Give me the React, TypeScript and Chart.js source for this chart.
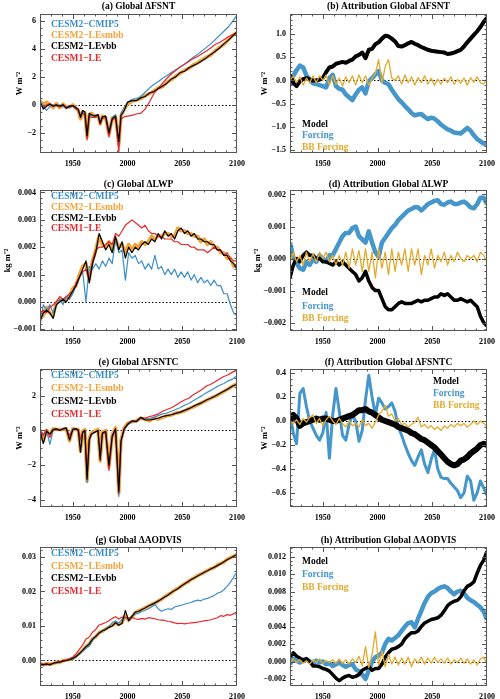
import React, { useEffect, useRef } from "react";
import { Chart, registerables } from "chart.js";
Chart.register(...registerables);

// ---------- years ----------
const yearsA = [
  1920, 1923, 1926, 1929, 1932, 1935, 1938, 1941, 1944, 1947, 1950, 1953,
  1955, 1957, 1959, 1961, 1963, 1965, 1967,
  1970, 1973, 1975, 1977, 1980, 1983, 1986, 1989, 1992, 1994, 1997,
  2000, 2004, 2008, 2012, 2016, 2020, 2024, 2028, 2032, 2036,
  2040, 2044, 2048, 2052, 2056, 2060, 2064, 2068, 2072, 2076,
  2080, 2084, 2088, 2092, 2096, 2100,
];
const years3 = [
  1920, 1923, 1926, 1929, 1932, 1935, 1938, 1941, 1944, 1947,
  1950, 1953, 1956, 1959, 1962, 1965, 1968, 1971, 1974, 1977,
  1980, 1983, 1986, 1989, 1992, 1995, 1998, 2001, 2004, 2007,
  2010, 2013, 2016, 2019, 2022, 2025, 2028, 2031, 2034, 2037,
  2040, 2043, 2046, 2049, 2052, 2055, 2058, 2061, 2064, 2067,
  2070, 2073, 2076, 2079, 2082, 2085, 2088, 2091, 2094, 2097,
  2100,
];

// ---------- (a) Global ΔFSNT ----------
const fsntVbb = [
  0.2, -0.3, -0.1, 0.05, -0.1, 0.0, -0.1, 0.0, -0.25, -0.1, -0.05, -0.2,
  -0.3, -0.9, -0.4, -0.5, -2.2, -0.6, -0.7,
  -0.8, -0.7, -1.3, -0.85, -0.8, -2.0, -1.0, -0.8, -2.6, -0.75, -0.4,
  0.2, 0.3, 0.3, 0.5, 0.6, 0.85, 0.95, 1.15, 1.35, 1.55,
  1.85, 2.0, 2.3, 2.4, 2.65, 2.8, 2.95, 3.15, 3.35, 3.6,
  3.8, 4.05, 4.35, 4.6, 4.9, 5.2,
];
const fsntSmbb = [
  0.3, 0.0, 0.2, 0.0, -0.2, 0.1, -0.2, 0.05, -0.15, -0.15, 0.0, -0.25,
  -0.4, -1.0, -0.5, -0.55, -2.3, -0.7, -0.6,
  -0.85, -0.75, -1.35, -0.8, -0.9, -2.1, -0.95, -0.85, -2.8, -0.8, -0.3,
  0.05, 0.25, 0.35, 0.45, 0.65, 0.8, 1.0, 1.2, 1.3, 1.6,
  1.8, 2.05, 2.25, 2.45, 2.6, 2.85, 3.0, 3.2, 3.4, 3.55,
  3.85, 4.1, 4.3, 4.65, 4.95, 5.15,
];
const fsntLe1 = [
  0.1, -0.2, 0.0, 0.1, -0.05, 0.0, -0.15, 0.05, -0.2, -0.05, -0.1, -0.3,
  -0.4, -0.8, -0.6, -0.7, -2.5, -0.8, -0.9,
  -0.9, -0.8, -1.4, -1.0, -0.9, -2.3, -1.1, -0.9, -3.4, -1.0, -0.85,
  -0.8, -0.75, -0.65, -0.6, -0.3, 0.2, 0.8, 1.2, 1.55, 1.9,
  2.2, 2.45, 2.7, 2.9, 3.1, 3.3, 3.45, 3.65, 3.85, 4.05,
  4.3, 4.45, 4.65, 4.85, 5.0, 5.2,
];
const fsntCmip5 = [
  0.35, -0.1, -0.4, -0.1, 0.0, -0.1, 0.0, -0.15, -0.1, -0.2, -0.1, -0.3,
  -0.4, -0.7, -0.5, -0.6, -2.3, -0.7, -0.8,
  -0.75, -0.7, -1.2, -0.85, -0.8, -1.9, -0.9, -0.7, -2.9, -0.6, -0.2,
  0.15, 0.4, 0.45, 0.6, 0.9, 1.2, 1.45, 1.65, 1.9, 2.1,
  2.3, 2.5, 2.7, 2.9, 3.15, 3.4, 3.6, 3.85, 4.1, 4.35,
  4.65, 4.95, 5.25, 5.55, 5.95, 6.4,
];

// ---------- (e) Global ΔFSNTC ----------
const fsntcVbb = [
  0.0, -0.75, -0.05, -0.2, 0.05, 0.1, 0.0, 0.1, 0.15, -0.55, 0.05, 0.1,
  0.0, -1.25, -0.1, 0.0, -2.8, -0.5, -0.2,
  -0.1, 0.0, -1.7, -0.15, -0.05, -2.0, -0.3, 0.1, -3.5, -0.6, 0.1,
  0.35, 0.55, 0.5, 0.75, 0.6, 0.6, 0.65, 0.7, 0.8, 0.85,
  0.9, 0.98, 1.05, 1.15, 1.25, 1.38, 1.5, 1.6, 1.75, 1.85,
  1.98, 2.12, 2.25, 2.4, 2.55, 2.65,
];
const fsntcSmbb = [
  0.05, -0.6, 0.0, -0.3, 0.1, 0.05, 0.05, 0.05, 0.1, -0.6, 0.1, 0.05,
  0.05, -1.2, -0.05, 0.05, -2.9, -0.45, -0.15,
  -0.05, 0.05, -1.75, -0.1, 0.0, -2.1, -0.25, 0.15, -3.6, -0.55, 0.15,
  0.4, 0.5, 0.55, 0.7, 0.65, 0.55, 0.7, 0.65, 0.75, 0.85,
  0.88, 1.0, 1.03, 1.12, 1.25, 1.35, 1.47, 1.6, 1.72, 1.85,
  1.95, 2.1, 2.25, 2.38, 2.55, 2.68,
];
const fsntcCmip5 = [
  0.0, -0.2, 0.0, -0.8, 0.0, 0.05, 0.05, 0.05, 0.1, -0.3, 0.1, 0.05,
  0.0, -0.6, -0.1, -0.05, -3.0, -0.6, -0.25,
  -0.1, 0.0, -1.3, -0.2, -0.1, -2.2, -0.4, 0.0, -3.8, -0.7, 0.05,
  0.3, 0.5, 0.5, 0.7, 0.65, 0.7, 0.75, 0.85, 0.95, 1.0,
  1.1, 1.2, 1.3, 1.45, 1.55, 1.7, 1.85, 2.0, 2.17, 2.3,
  2.45, 2.6, 2.7, 2.85, 2.95, 3.15,
];
const fsntcLe1 = [
  0.0, -0.3, 0.05, -0.4, 0.05, 0.05, 0.0, 0.1, 0.1, -0.3, 0.05, 0.1,
  0.05, -0.5, -0.1, 0.0, -2.6, -0.6, -0.2,
  -0.1, 0.0, -1.5, -0.2, -0.1, -2.3, -0.4, 0.05, -3.6, -0.6, 0.1,
  0.35, 0.55, 0.55, 0.75, 0.7, 0.8, 0.85, 0.95, 1.1, 1.2,
  1.3, 1.45, 1.6, 1.75, 1.85, 2.05, 2.2, 2.35, 2.55, 2.65,
  2.8, 2.95, 3.1, 3.2, 3.35, 3.47,
];

// ---------- (c) Global ΔLWP ----------
const lwpCmip5 = [
  -0.0009, -0.0001, -0.0003, -0.0001, -0.0004, -0.0001, 0.0001, -0.0001, 0.0002, 0.0001,
  0.0003, 0.0006, 0.0009, 0.0011, 0.0, 0.0013, 0.0012, 0.0014, 0.0012, 0.0015,
  0.0013, 0.0016, 0.0014, 0.0023, 0.0018, 0.0019, 0.0008, 0.0018, 0.0016, 0.0017,
  0.0014, 0.0015, 0.0012, 0.0014, 0.0012, 0.0017, 0.0012, 0.0013, 0.001, 0.0012,
  0.001, 0.0012, 0.0009, 0.0011, 0.0009, 0.0011, 0.0008, 0.001, 0.0007, 0.0009,
  0.0007, 0.0008, 0.0006, 0.0008, 0.0006, 0.0006, 0.0003, 0.0003, -0.0001, -0.0004,
  -0.0005,
];
const lwpVbb = [
  -0.0007, -0.0004, -0.0003, -0.0004, -0.0006, -0.0001, 0.0, 0.0001, 0.0, 0.0002,
  0.0004, 0.0006, 0.0009, 0.0012, 0.0015, 0.0007, 0.0014, 0.0018, 0.0025, 0.0022,
  0.0019, 0.0021, 0.0018, 0.0024, 0.0019, 0.0022, 0.0016, 0.002, 0.0018, 0.002,
  0.0019, 0.0021, 0.0022, 0.0021, 0.0023, 0.0022, 0.0025, 0.0023, 0.0026, 0.0024,
  0.0025, 0.0023, 0.0026, 0.0027, 0.0025, 0.0026, 0.0024, 0.0025, 0.0023, 0.0023,
  0.0022, 0.0022, 0.0021, 0.0021, 0.0019, 0.0019, 0.0017, 0.0017, 0.0015, 0.0014,
  0.0012,
];
const lwpSmbb = [
  -0.0006, -0.0005, -0.0002, -0.0004, -0.0005, 0.0, 0.0001, 0.0, 0.0001, 0.0002,
  0.0005, 0.0006, 0.001, 0.0013, 0.0014, 0.0008, 0.0015, 0.0019, 0.0024, 0.0021,
  0.002, 0.0022, 0.0019, 0.0023, 0.002, 0.0021, 0.0018, 0.0021, 0.0019, 0.0021,
  0.002, 0.0022, 0.0021, 0.0022, 0.0024, 0.0023, 0.0024, 0.0024, 0.0025, 0.0025,
  0.0024, 0.0024, 0.0027, 0.0026, 0.0026, 0.0025, 0.0025, 0.0024, 0.0024, 0.0022,
  0.0023, 0.0021, 0.0022, 0.002, 0.002, 0.0018, 0.0018, 0.0016, 0.0016, 0.0013,
  0.0013,
];
const lwpLe1 = [
  -0.0004, -0.0003, -0.0004, -0.0002, -0.0001, 0.0, 0.0002, 0.0001, 0.0002, 0.0003,
  0.0004, 0.0007, 0.0009, 0.0011, 0.0012, 0.0008, 0.0015, 0.0019, 0.002, 0.002,
  0.0021, 0.0022, 0.0021, 0.0025, 0.0024, 0.0026, 0.0028, 0.0029, 0.003, 0.0029,
  0.0028, 0.0027, 0.0028, 0.0026, 0.0025, 0.0025, 0.0024, 0.0024, 0.0023, 0.0023,
  0.0023, 0.0022, 0.0022, 0.0021, 0.0021, 0.0021, 0.002, 0.002, 0.0019, 0.0019,
  0.0019, 0.0018, 0.0019, 0.002, 0.0019, 0.0019, 0.0017, 0.0018, 0.0016, 0.0015,
  0.0015,
];

// ---------- (g) Global ΔAODVIS ----------
const aodVbb = [
  -0.001, -0.0012, -0.001, -0.0013, -0.0008, -0.0006, -0.0005, -0.0002, 0.0, 0.0002,
  0.0006, 0.0012, 0.002, 0.003, 0.004, 0.0048, 0.0062, 0.007, 0.008, 0.0086,
  0.009, 0.0096, 0.01, 0.011, 0.0102, 0.0108, 0.0145, 0.0115, 0.0128, 0.014,
  0.0142, 0.0148, 0.0152, 0.0158, 0.0162, 0.0167, 0.0172, 0.0178, 0.0184, 0.019,
  0.0197, 0.0203, 0.0208, 0.0216, 0.0222, 0.0228, 0.0234, 0.024, 0.0245, 0.025,
  0.0256, 0.026, 0.0265, 0.027, 0.0275, 0.028, 0.0286, 0.0292, 0.0297, 0.0302,
  0.0307,
];
const aodSmbb = [
  -0.0008, -0.0013, -0.0009, -0.0011, -0.0009, -0.0005, -0.0006, -0.0001, 0.0001, 0.0003,
  0.0005, 0.0013, 0.0021, 0.0029, 0.0041, 0.0047, 0.0063, 0.0069, 0.0081, 0.0085,
  0.0091, 0.0097, 0.0102, 0.0108, 0.0104, 0.011, 0.013, 0.0117, 0.0126, 0.0138,
  0.0144, 0.0147, 0.0153, 0.0157, 0.0163, 0.0166, 0.0173, 0.0177, 0.0185, 0.0191,
  0.0196, 0.0204, 0.0209, 0.0215, 0.0223, 0.0227, 0.0235, 0.0239, 0.0246, 0.0251,
  0.0255, 0.0261, 0.0266, 0.0269, 0.0276, 0.0281, 0.0285, 0.0293, 0.0298, 0.0303,
  0.0308,
];
const aodCmip5 = [
  -0.0012, -0.001, -0.0013, -0.0011, -0.0009, -0.0006, -0.0004, -0.0003, 0.0, 0.0001,
  0.0005, 0.001, 0.0018, 0.0028, 0.0035, 0.0042, 0.0058, 0.007, 0.0078, 0.0085,
  0.0092, 0.0098, 0.011, 0.0115, 0.0108, 0.012, 0.0125, 0.0122, 0.0128, 0.0134,
  0.0137, 0.0142, 0.0145, 0.015, 0.0155, 0.0162, 0.015, 0.0143, 0.0147, 0.015,
  0.0148, 0.0155, 0.0158, 0.016, 0.0163, 0.0166, 0.0168, 0.0172, 0.0175, 0.0173,
  0.0178, 0.018, 0.0184, 0.0188, 0.0195, 0.0198, 0.0205, 0.0215, 0.0227, 0.0242,
  0.0256,
];
const aodLe1 = [
  -0.0016, -0.0013, -0.0012, -0.001, -0.0008, -0.0005, -0.0003, 0.0, 0.0002, 0.0005,
  0.001, 0.002, 0.0032, 0.0045, 0.0062, 0.0068, 0.0082, 0.009, 0.0103, 0.0106,
  0.011, 0.0115, 0.0122, 0.0127, 0.012, 0.0126, 0.0124, 0.0122, 0.0125, 0.0121,
  0.0119, 0.0122, 0.012, 0.0124, 0.0123, 0.0121, 0.0118, 0.0117, 0.0116, 0.0113,
  0.0112, 0.0109, 0.0107, 0.0108, 0.0106, 0.0108, 0.0109, 0.011, 0.0111, 0.0113,
  0.0115, 0.0116, 0.0118, 0.0121, 0.0124, 0.013, 0.0128, 0.0133, 0.0131, 0.0136,
  0.0134,
];

// ---------- (b) Attribution ΔFSNT ----------
const attFsntModel = [
  0.12, -0.05, -0.12, -0.02, 0.03, 0.05, 0.02, 0.0, 0.0, 0.02,
  0.05, 0.18, 0.28, 0.3, 0.36, 0.38, 0.4, 0.38, 0.42, 0.45,
  0.52, 0.55, 0.6, 0.48, 0.66, 0.68, 0.78, 0.82, 0.9, 0.96,
  0.95, 0.9, 0.84, 0.74, 0.73, 0.76, 0.8, 0.83, 0.79, 0.76,
  0.72, 0.69, 0.66, 0.64, 0.63, 0.62, 0.61, 0.6, 0.57, 0.58,
  0.6, 0.63, 0.66, 0.73, 0.82, 0.9, 0.98, 1.06, 1.15, 1.26,
  1.35,
];
const attFsntForcing = [
  -0.1, 0.1, 0.22, 0.32, 0.28, 0.11, 0.02, -0.06, -0.08, -0.1,
  -0.12, -0.15, 0.05, 0.12, -0.12, -0.18, -0.2, -0.3, -0.36, -0.42,
  -0.3, -0.2, -0.15, -0.28, -0.02, 0.05, 0.13, 0.2, 0.0, -0.05,
  -0.08, -0.2, -0.3, -0.4, -0.47, -0.55, -0.62, -0.7, -0.75, -0.73,
  -0.72, -0.78, -0.83, -0.8, -0.82, -0.88, -0.95, -1.0, -1.05, -1.08,
  -1.12, -1.13, -1.14, -1.08, -1.02, -1.08, -1.18, -1.26, -1.31, -1.36,
  -1.35,
];
const attFsntBB = [
  0.0, 0.1, -0.05, 0.08, -0.1, 0.05, -0.05, 0.1, -0.05, 0.1,
  0.0, 0.12, -0.1, 0.1, -0.08, 0.05, -0.12, 0.08, -0.05, 0.1,
  -0.1, 0.12, -0.05, 0.1, -0.1, 0.05, 0.15, 0.45, -0.05, 0.3,
  0.45, 0.05, 0.0, 0.1, -0.08, 0.12, -0.05, 0.08, -0.1, 0.06,
  -0.05, 0.1, -0.08, 0.05, -0.1, 0.03, -0.08, 0.05, -0.05, 0.08,
  -0.08, 0.02, -0.06, 0.05, -0.1, 0.06, -0.04, 0.08, -0.05, -0.08,
  0.05,
];

// ---------- (d) Attribution ΔLWP ----------
const attLwpModel = [
  -0.0006, -0.0002, 0.0, -0.0001, 0.0001, 0.0002, 0.0001, 0.0001, 0.0, 0.0,
  -0.0001, -0.0001, -0.00015, -0.0002, -0.0001, -0.0002, -0.0001, -0.0002, -0.0003, -0.0004,
  -0.0005, -0.0007, -0.0006, -0.0004, -0.0007, -0.0009, -0.001, -0.001, -0.00125, -0.0015,
  -0.0016, -0.0016, -0.0015, -0.0014, -0.00135, -0.0014, -0.0014, -0.0014, -0.00135, -0.0013,
  -0.00135, -0.0013, -0.0013, -0.00125, -0.0012, -0.0012, -0.0011, -0.00115, -0.0011, -0.0012,
  -0.0013, -0.0013, -0.00125, -0.0013, -0.00135, -0.0013, -0.0014, -0.0015, -0.0018, -0.002,
  -0.0021,
];
const attLwpForcing = [
  0.0005, 0.00005, -0.00015, -0.0003, -0.00035, -0.0001, -0.0002, 0.0, -0.0001, 0.0001,
  0.0, -0.0001, 0.0001, 0.0001, 0.0003, 0.0005, 0.0007, 0.0008, 0.0008, 0.00095,
  0.001, 0.0007, 0.0006, 0.0005, 0.00085, 0.0005, 0.0002, 0.00005, 0.0005, 0.00065,
  0.0008, 0.00095, 0.00105, 0.0012, 0.0013, 0.0014, 0.0015, 0.00155, 0.0016, 0.0016,
  0.0015, 0.0016, 0.0017, 0.00175, 0.0018, 0.00182, 0.0017, 0.00168, 0.00175, 0.00178,
  0.0017, 0.0017, 0.00175, 0.00178, 0.0017, 0.0016, 0.00157, 0.0017, 0.0019, 0.0019,
  0.0017,
];
const attLwpBB = [
  -0.0001, 0.0002, -0.0001, 0.0001, -0.0002, 0.0002, -0.0001, 0.00015, -0.0001, 0.0002,
  0.0, 0.0002, -0.0001, 0.0001, -0.0002, 0.0001, -0.0002, 0.0002, -0.0003, 0.0003,
  -0.0002, 0.00025, -0.0004, 0.0003, -0.0004, 0.0002, -0.0006, 0.0003, -0.0003, 0.0002,
  -0.0005, 0.0003, -0.0004, 0.0002, -0.0002, 0.0003, -0.0004, 0.0003, -0.0002, 0.0003,
  -0.0005, 0.0001, -0.0002, 0.0003, -0.0003, 0.0001, -0.0001, 0.0002, -0.0002, 0.0001,
  -0.0001, 0.0002, 0.0, -0.0001, 0.0001, 0.0, 0.0001, -0.0001, 0.0002, 0.0001,
  -0.0001,
];

// ---------- (f) Attribution ΔFSNTC ----------
const attFsntcModel = [
  0.0, 0.05, 0.02, -0.04, -0.02, -0.01, 0.0, 0.01, 0.02, 0.01,
  0.02, 0.02, 0.01, 0.0, 0.0, 0.01, 0.02, 0.03, 0.04, 0.05,
  0.07, 0.09, 0.09, 0.1, 0.08, 0.07, 0.05, 0.03, 0.01, 0.0,
  -0.01, -0.02, -0.03, -0.05, -0.06, -0.07, -0.08, -0.1, -0.11, -0.13,
  -0.15, -0.16, -0.18, -0.2, -0.22, -0.25, -0.28, -0.31, -0.34, -0.36,
  -0.37, -0.36, -0.33, -0.32, -0.3, -0.27, -0.25, -0.23, -0.2, -0.19,
  -0.2,
];
const attFsntcForcing = [
  0.06, -0.1, -0.19, 0.23, 0.27, 0.12, 0.0, -0.06, -0.12, -0.16,
  -0.1, 0.07, -0.31, 0.05, 0.27, 0.08, -0.12, -0.16, -0.03, 0.05,
  0.0, -0.17, -0.08, 0.18, 0.38, 0.2, 0.05, 0.19, 0.15, 0.1,
  0.12, 0.15, 0.08, -0.05, -0.12, -0.2, -0.27, -0.33, -0.37, -0.3,
  -0.24, -0.36, -0.43, -0.32, -0.24, -0.4, -0.47, -0.48, -0.48, -0.52,
  -0.55, -0.58, -0.64, -0.6, -0.46, -0.5, -0.66, -0.6, -0.5, -0.56,
  -0.62,
];
const attFsntcBB = [
  0.0, -0.02, 0.01, -0.03, 0.02, -0.01, 0.03, 0.05, -0.02, 0.02,
  -0.04, 0.01, 0.04, 0.0, -0.03, 0.02, -0.02, -0.05, 0.0, -0.04,
  -0.02, -0.05, 0.01, -0.04, -0.02, -0.06, -0.01, 0.05, 0.08, 0.13,
  0.04, 0.06, 0.0, 0.02, -0.03, -0.02, -0.05, -0.03, -0.01, 0.03,
  -0.05, -0.03, -0.06, -0.04, -0.07, -0.05, -0.08, -0.04, -0.06, -0.03,
  -0.05, -0.02, -0.04, -0.02, -0.05, -0.03, 0.0, -0.03, 0.0, -0.02,
  -0.05,
];

// ---------- (h) Attribution ΔAODVIS ----------
const attAodModel = [
  0.0005, 0.001, 0.0006, 0.0004, 0.0001, 0.0003, 0.0, -0.0005, -0.0005, -0.0006,
  -0.0008, -0.0009, -0.0011, -0.0015, -0.0019, -0.0022, -0.0019, -0.0017, -0.0016, -0.0018,
  -0.0017, -0.0015, -0.001, -0.0008, -0.0006, -0.001, -0.0008, -0.0008, -0.0003, 0.0005,
  0.001, 0.0014, 0.0015, 0.0017, 0.002, 0.0026, 0.003, 0.0033, 0.0033, 0.0035,
  0.004, 0.0044, 0.0046, 0.0048, 0.0049, 0.005, 0.0053, 0.0058, 0.0064, 0.0067,
  0.0069, 0.007, 0.0074, 0.0081, 0.0086, 0.0088, 0.0091, 0.0101, 0.011, 0.0116,
  0.0126,
];
const attAodForcing = [
  -0.0003, 0.0003, 0.0001, -0.0001, 0.0002, 0.0003, 0.0, -0.0002, 0.0001, -0.0001,
  0.0, -0.0003, -0.0002, -0.0005, -0.0003, -0.0001, -0.0004, -0.0006, -0.0004, -0.0003,
  -0.0009, -0.0011, -0.0015, -0.002, -0.001, 0.0, 0.0005, 0.0007, 0.001, 0.002,
  0.0026, 0.0024, 0.0027, 0.003, 0.0035, 0.004, 0.0044, 0.0045, 0.0039, 0.0049,
  0.0058, 0.0067, 0.0074, 0.0078, 0.008, 0.0083, 0.0085, 0.0086, 0.0084, 0.008,
  0.0077, 0.008, 0.0081, 0.0078, 0.0073, 0.007, 0.0068, 0.0065, 0.0062, 0.0057,
  0.0048,
];
const attAodBB = [
  -0.0002, 0.0003, -0.0001, 0.0002, -0.0002, 0.0001, -0.0003, 0.0002, -0.0001, 0.0003,
  -0.0002, 0.0001, -0.0001, 0.0002, -0.0002, 0.0003, -0.0002, 0.0002, -0.0003, 0.0003,
  -0.0001, 0.0006, -0.0005, 0.0017, -0.0007, 0.0008, 0.0034, -0.0004, 0.0012, -0.0006,
  0.0008, -0.0003, 0.0005, -0.0004, 0.0004, -0.0003, 0.0005, -0.0006, 0.0003, -0.0002,
  0.0005, -0.0003, 0.0004, -0.0002, 0.0005, -0.0001, 0.0003, -0.0002, 0.0004, -0.0003,
  0.0002, -0.0001, 0.0004, -0.0002, 0.0003, -0.0003, 0.0002, -0.0004, 0.0003, 0.0005,
  -0.0003,
];

// ---------- tick labels ----------
const xTickYears = [1950, 2000, 2050, 2100];
const ticksA = [-2, 0, 2, 4, 6];
const ticksB = [-1.5, -1.0, -0.5, 0.0, 0.5, 1.0];
const ticksC = [-0.001, 0.0, 0.001, 0.002, 0.003, 0.004];
const ticksD = [-0.002, -0.001, 0.0, 0.001, 0.002];
const ticksE = [-4, -2, 0, 2];
const ticksF = [-0.6, -0.4, -0.2, 0.0, 0.2, 0.4];
const ticksG = [0.0, 0.01, 0.02, 0.03];
const ticksH = [-0.002, 0.0, 0.002, 0.004, 0.006, 0.008, 0.01, 0.012];

const ensembleLabels = ["CESM2−CMIP5", "CESM2−LEsmbb", "CESM2−LEvbb", "CESM1−LE"];
const attribLabels = ["Model", "Forcing", "BB Forcing"];

// ---------- styles ----------
const FONT = "'Liberation Serif', 'Times New Roman', serif";
const C_BLUE = "#3b8ec8";
const C_ORANGE = "#f2a33a";
const C_BLACK = "#000000";
const C_RED = "#e8282b";
const C_GOLD = "#e3aa2e";
const C_FBLUE = "#4596cb";

type Series = { values: number[]; color: string; width: number };
type PanelCfg = {
  id: string;
  title: string;
  left: number;
  top: number;
  plotH: number;
  titleY: number;
  years: number[];
  series: Series[];
  yMin: number;
  yMax: number;
  yTicks: number[];
  yMinor: number;
  decimals: number;
  yTitle?: string;
  yTitleX?: number;
  legend: { text: string; color: string }[];
  legendX: number;
  legendY: number[];
};

const ensLegend = [
  { text: ensembleLabels[0], color: C_BLUE },
  { text: ensembleLabels[1], color: C_ORANGE },
  { text: ensembleLabels[2], color: C_BLACK },
  { text: ensembleLabels[3], color: C_RED },
];
const attLegend = [
  { text: attribLabels[0], color: C_BLACK },
  { text: attribLabels[1], color: C_FBLUE },
  { text: attribLabels[2], color: C_GOLD },
];

function ens(vbb: number[], le1: number[], cmip5: number[], smbb: number[]): Series[] {
  return [
    { values: vbb, color: C_BLACK, width: 1.2 },
    { values: le1, color: C_RED, width: 1.2 },
    { values: cmip5, color: C_BLUE, width: 1.2 },
    { values: smbb, color: C_ORANGE, width: 3.5 },
  ];
}
function att(bb: number[], model: number[], forcing: number[], mw: number, fw: number): Series[] {
  return [
    { values: bb, color: C_GOLD, width: 1.3 },
    { values: model, color: C_BLACK, width: mw },
    { values: forcing, color: C_FBLUE, width: fw },
  ];
}

const panels: PanelCfg[] = [
  {
    id: "a", title: "(a) Global ΔFSNT", left: 0, top: 0, plotH: 139, titleY: 7,
    years: yearsA, series: ens(fsntVbb, fsntLe1, fsntCmip5, fsntSmbb),
    yMin: -3.43, yMax: 6.48, yTicks: ticksA, yMinor: 0.5, decimals: 0,
    yTitle: "W m⁻²", yTitleX: 20, legend: ensLegend, legendX: 51, legendY: [25, 36, 47, 59],
  },
  {
    id: "b", title: "(b) Attribution Global ΔFSNT", left: 250, top: 0, plotH: 139, titleY: 7,
    years: years3, series: att(attFsntBB, attFsntModel, attFsntForcing, 4, 4.5),
    yMin: -1.56, yMax: 1.43, yTicks: ticksB, yMinor: 0.1, decimals: 1,
    yTitle: "W m⁻²", yTitleX: 15, legend: attLegend, legendX: 52, legendY: [125, 136, 148],
  },
  {
    id: "c", title: "(c) Global ΔLWP", left: 0, top: 176, plotH: 141, titleY: 9,
    years: years3, series: ens(lwpVbb, lwpLe1, lwpCmip5, lwpSmbb),
    yMin: -0.00106, yMax: 0.00409, yTicks: ticksC, yMinor: 0.0002, decimals: 3,
    yTitle: "kg m⁻²", yTitleX: 8, legend: ensLegend, legendX: 51, legendY: [21, 32, 43, 53],
  },
  {
    id: "d", title: "(d) Attribution Global ΔLWP", left: 250, top: 176, plotH: 141, titleY: 9,
    years: years3, series: att(attLwpBB, attLwpModel, attLwpForcing, 3.5, 4.5),
    yMin: -0.00226, yMax: 0.00214, yTicks: ticksD, yMinor: 0.0002, decimals: 3,
    yTitle: "kg m⁻²", yTitleX: 8, legend: attLegend, legendX: 52, legendY: [117, 131, 143],
  },
  {
    id: "e", title: "(e) Global ΔFSNTC", left: 0, top: 355, plotH: 138, titleY: 8,
    years: yearsA, series: ens(fsntcVbb, fsntcLe1, fsntcCmip5, fsntcSmbb),
    yMin: -4.4, yMax: 3.53, yTicks: ticksE, yMinor: 0.5, decimals: 0,
    yTitle: "W m⁻²", yTitleX: 20, legend: ensLegend, legendX: 51, legendY: [21, 34, 47, 60],
  },
  {
    id: "f", title: "(f) Attribution Global ΔFSNTC", left: 250, top: 355, plotH: 138, titleY: 8,
    years: years3, series: att(attFsntcBB, attFsntcModel, attFsntcForcing, 6, 3),
    yMin: -0.717, yMax: 0.433, yTicks: ticksF, yMinor: 0.05, decimals: 1,
    yTitle: "W m⁻²", yTitleX: 15, legend: attLegend, legendX: 183, legendY: [27, 39, 51],
  },
  {
    id: "g", title: "(g) Global ΔAODVIS", left: 0, top: 533, plotH: 139, titleY: 8,
    years: years3, series: ens(aodVbb, aodLe1, aodCmip5, aodSmbb),
    yMin: -0.0074, yMax: 0.0329, yTicks: ticksG, yMinor: 0.002, decimals: 2,
    legend: ensLegend, legendX: 51, legendY: [21, 34, 46, 59],
  },
  {
    id: "h", title: "(h) Attribution Global ΔAODVIS", left: 250, top: 533, plotH: 139, titleY: 8,
    years: years3, series: att(attAodBB, attAodModel, attAodForcing, 3.5, 4.5),
    yMin: -0.0028, yMax: 0.0131, yTicks: ticksH, yMinor: 0.0005, decimals: 3,
    legend: attLegend, legendX: 52, legendY: [29, 42, 55],
  },
];

function fmt(v: number, d: number): string {
  const s = Math.abs(v) < 1e-12 ? (0).toFixed(d) : v.toFixed(d);
  return s.replace("-", "−");
}

function makeFrame(cfg: PanelCfg) {
  return {
    id: "frame_" + cfg.id,
    beforeDatasetsDraw(chart: any) {
      const { ctx, chartArea: a, scales } = chart;
      const y0 = Math.round(scales.y.getPixelForValue(0)) + 0.5;
      ctx.save();
      ctx.strokeStyle = "#000";
      ctx.lineWidth = 1;
      ctx.setLineDash([1.5, 2]);
      ctx.beginPath();
      ctx.moveTo(a.left, y0);
      ctx.lineTo(a.right, y0);
      ctx.stroke();
      ctx.restore();
    },
    afterDraw(chart: any) {
      const { ctx, chartArea: a, scales } = chart;
      const xs = scales.x;
      const ys = scales.y;
      ctx.save();
      ctx.setLineDash([]);
      ctx.strokeStyle = "#555";
      ctx.lineWidth = 1;
      ctx.strokeRect(a.left + 0.5, a.top + 0.5, a.right - a.left - 1, a.bottom - a.top - 1);
      ctx.beginPath();
      for (let yr = 1930; yr < 2100; yr += 10) {
        const px = Math.round(xs.getPixelForValue(yr)) + 0.5;
        const len = yr % 50 === 0 ? 5 : 2.5;
        ctx.moveTo(px, a.bottom);
        ctx.lineTo(px, a.bottom - len);
        ctx.moveTo(px, a.top);
        ctx.lineTo(px, a.top + len);
      }
      const kStart = Math.ceil(cfg.yMin / cfg.yMinor - 1e-6);
      for (let k = kStart; k * cfg.yMinor <= cfg.yMax + 1e-12; k++) {
        const v = k * cfg.yMinor;
        const major = cfg.yTicks.some((t) => Math.abs(t - v) < cfg.yMinor * 0.05);
        const len = major ? 5 : 2.5;
        const py = Math.round(ys.getPixelForValue(v)) + 0.5;
        ctx.moveTo(a.left, py);
        ctx.lineTo(a.left + len, py);
        ctx.moveTo(a.right, py);
        ctx.lineTo(a.right - len, py);
      }
      ctx.stroke();

      ctx.fillStyle = "#000";
      ctx.font = `bold 9.5px ${FONT}`;
      ctx.textAlign = "center";
      ctx.textBaseline = "middle";
      ctx.fillText(cfg.title, (a.left + a.right) / 2, cfg.titleY);

      ctx.textAlign = "left";
      cfg.legend.forEach((l, i) => {
        ctx.fillStyle = l.color;
        ctx.fillText(l.text, cfg.legendX, cfg.legendY[i]);
      });

      if (cfg.yTitle) {
        ctx.save();
        ctx.fillStyle = "#000";
        ctx.font = `bold 8.5px ${FONT}`;
        ctx.translate(cfg.yTitleX || 15, (a.top + a.bottom) / 2);
        ctx.rotate(-Math.PI / 2);
        ctx.textAlign = "center";
        ctx.textBaseline = "middle";
        ctx.fillText(cfg.yTitle, 0, 0);
        ctx.restore();
      }
      ctx.restore();
    },
  };
}

function Panel({ cfg }: { cfg: PanelCfg }) {
  const ref = useRef<HTMLCanvasElement>(null);
  const H = cfg.plotH + 30;
  useEffect(() => {
    const canvas = ref.current;
    if (!canvas) return;
    const tickFont = { family: FONT, size: 8, weight: "bold" as const };
    const chart = new Chart(canvas, {
      type: "line",
      data: {
        datasets: cfg.series.map((s) => ({
          data: cfg.years
            .map((x, i) => ({ x, y: s.values[i] }))
            .filter((p) => p.y !== undefined),
          borderColor: s.color,
          backgroundColor: s.color,
          borderWidth: s.width,
          pointRadius: 0,
          tension: 0,
          fill: false,
          clip: 0,
          borderJoinStyle: "round",
        })),
      } as any,
      options: {
        responsive: false,
        animation: false,
        events: [],
        layout: { padding: { top: 14, right: 13, left: 0, bottom: 0 } },
        plugins: { legend: { display: false }, tooltip: { enabled: false }, title: { display: false } },
        scales: {
          x: {
            type: "linear",
            min: 1920,
            max: 2100,
            afterBuildTicks: (s: any) => {
              s.ticks = xTickYears.map((v) => ({ value: v }));
            },
            afterFit: (s: any) => {
              s.height = 16;
              s.paddingLeft = 0; s.paddingRight = 0; s.paddingTop = 0; s.paddingBottom = 0;
            },
            grid: { display: false, drawTicks: false },
            border: { display: false },
            ticks: {
              padding: 6, color: "#000", font: tickFont, maxRotation: 0, autoSkip: false,
              callback: (v: any) => String(v),
            },
          },
          y: {
            type: "linear",
            min: cfg.yMin,
            max: cfg.yMax,
            afterBuildTicks: (s: any) => {
              s.ticks = cfg.yTicks.map((v) => ({ value: v }));
            },
            afterFit: (s: any) => {
              s.width = 40;
              s.paddingLeft = 0; s.paddingRight = 0; s.paddingTop = 0; s.paddingBottom = 0;
            },
            grid: { display: false, drawTicks: false },
            border: { display: false },
            ticks: {
              padding: 4, color: "#000", font: tickFont, autoSkip: false,
              callback: (v: any) => fmt(Number(v), cfg.decimals),
            },
          },
        },
      } as any,
      plugins: [makeFrame(cfg)],
    });
    return () => chart.destroy();
  }, []);
  return (
    <canvas
      ref={ref}
      width={250}
      height={H}
      style={{ position: "absolute", left: cfg.left, top: cfg.top, width: 250, height: H }}
    />
  );
}

export default function App() {
  return (
    <div style={{ position: "absolute", left: 0, top: 0, width: 500, height: 699, background: "#fff", overflow: "hidden" }}>
      {panels.map((p) => (
        <Panel key={p.id} cfg={p} />
      ))}
    </div>
  );
}
